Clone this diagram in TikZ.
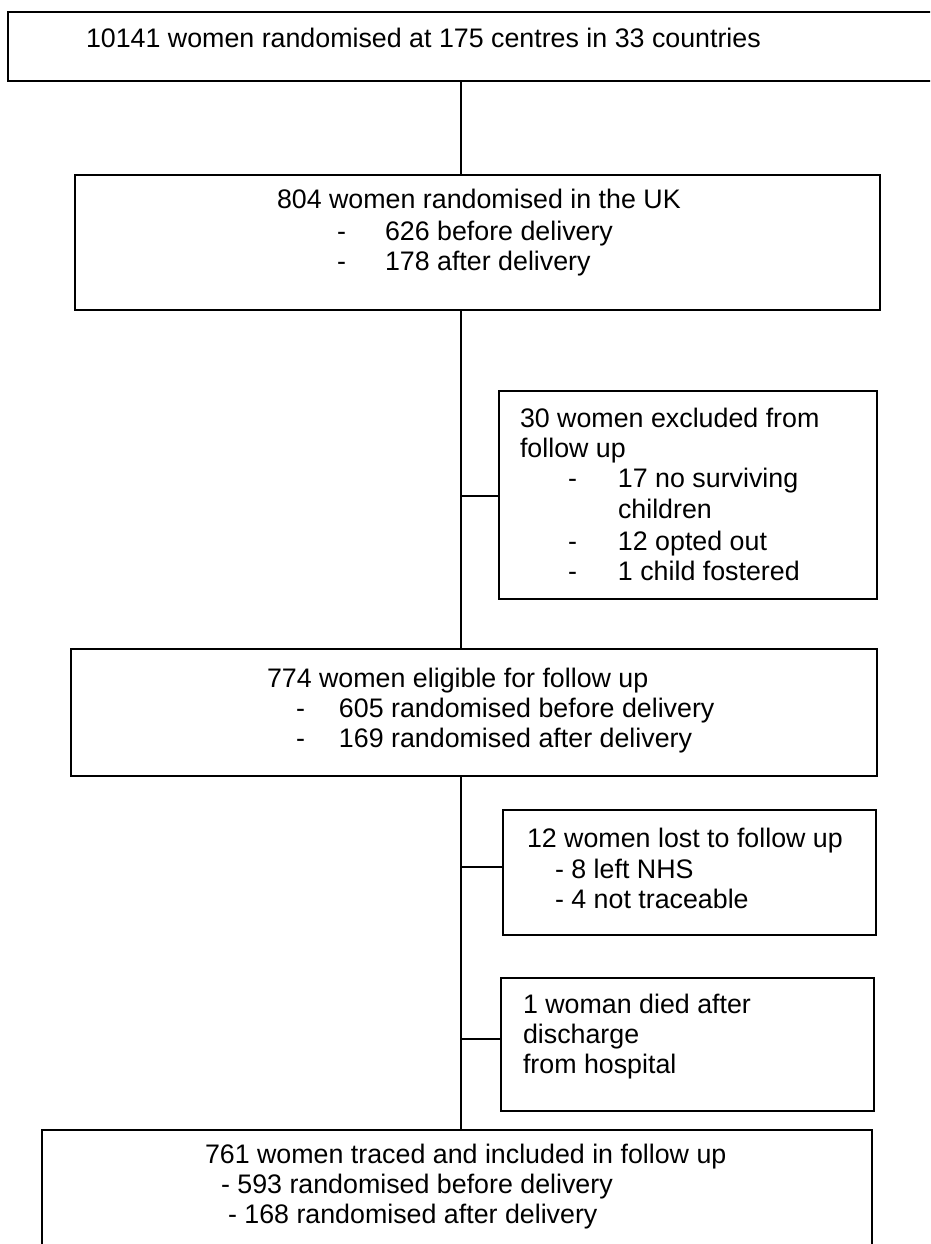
\documentclass[tikz,border=0pt]{standalone}
\usepackage{fontspec}
\setmainfont{Liberation Sans}
\newcommand\dashitem[1]{\makebox[#1][l]{-}}
\begin{document}
\begin{tikzpicture}[x=1pt,y=-1pt,
  box/.style={draw, line width=2pt, anchor=north west, inner sep=0pt, outer sep=0pt},
  txt/.style={anchor=base west, inner sep=0pt, outer sep=0pt, font=\fontsize{26.8}{30.5}\selectfont},
  conn/.style={line width=1.6pt}]
\useasboundingbox (0,0) rectangle (930,1244);
\clip (0,0) rectangle (930,1244);
% boxes
\node[box, minimum width=932pt, minimum height=69pt]  (b1) at (8,12) {};
\node[box, minimum width=805pt, minimum height=135pt] (b2) at (75,175) {};
\node[box, minimum width=378pt, minimum height=208pt] (b3) at (499,391) {};
\node[box, minimum width=806pt, minimum height=127pt] (b4) at (71,649) {};
\node[box, minimum width=373pt, minimum height=125pt] (b5) at (503,810) {};
\node[box, minimum width=373pt, minimum height=133pt] (b6) at (501,978) {};
\node[box, minimum width=830pt, minimum height=140pt] (b7) at (42,1130) {};
% trunk coordinates
\coordinate (trunk) at (461,0);
\coordinate (c3) at (461,496);
\coordinate (c5) at (461,867);
\coordinate (c6) at (461,1039);
% connectors
\draw[conn] (b1.south -| trunk) -- (b2.north -| trunk);
\draw[conn] (b2.south -| trunk) -- (b4.north -| trunk);
\draw[conn] (b4.south -| trunk) -- (b7.north -| trunk);
\draw[conn] (c3) -- (c3 -| b3.west);
\draw[conn] (c5) -- (c5 -| b5.west);
\draw[conn] (c6) -- (c6 -| b6.west);
% texts
\node[txt] (t1) at (86,48) {10141 women randomised at 175 centres in 33 countries};
\node[txt] (t2a) at (277,208) {804 women randomised in the UK};
\node[txt] (t2b) at (337,240) {\dashitem{48pt}626 before delivery};
\node[txt] (t2c) at (337,270) {\dashitem{48pt}178 after delivery};
\node[txt] (t3a) at (520,427) {30 women excluded from};
\node[txt] (t3b) at (520,457) {follow up};
\node[txt] (t3c) at (568,487) {\dashitem{50pt}17 no surviving};
\node[txt] (t3d) at (618,518) {children};
\node[txt] (t3e) at (568,550) {\dashitem{50pt}12 opted out};
\node[txt] (t3f) at (568,580) {\dashitem{50pt}1 child fostered};
\node[txt] (t4a) at (267,687) {774 women eligible for follow up};
\node[txt] (t4b) at (296,717) {\dashitem{43pt}605 randomised before delivery};
\node[txt] (t4c) at (296,747) {\dashitem{43pt}169 randomised after delivery};
\node[txt] (t5a) at (527,847) {12 women lost to follow up};
\node[txt] (t5b) at (555,878) {- 8 left NHS};
\node[txt] (t5c) at (555,908) {- 4 not traceable};
\node[txt] (t6a) at (523,1013) {1 woman died after};
\node[txt] (t6b) at (523,1043) {discharge};
\node[txt] (t6c) at (523,1073) {from hospital};
\node[txt] (t7a) at (205,1163) {761 women traced and included in follow up};
\node[txt] (t7b) at (221,1193) {- 593 randomised before delivery};
\node[txt] (t7c) at (228,1223) {- 168 randomised after delivery};
\end{tikzpicture}
\end{document}
